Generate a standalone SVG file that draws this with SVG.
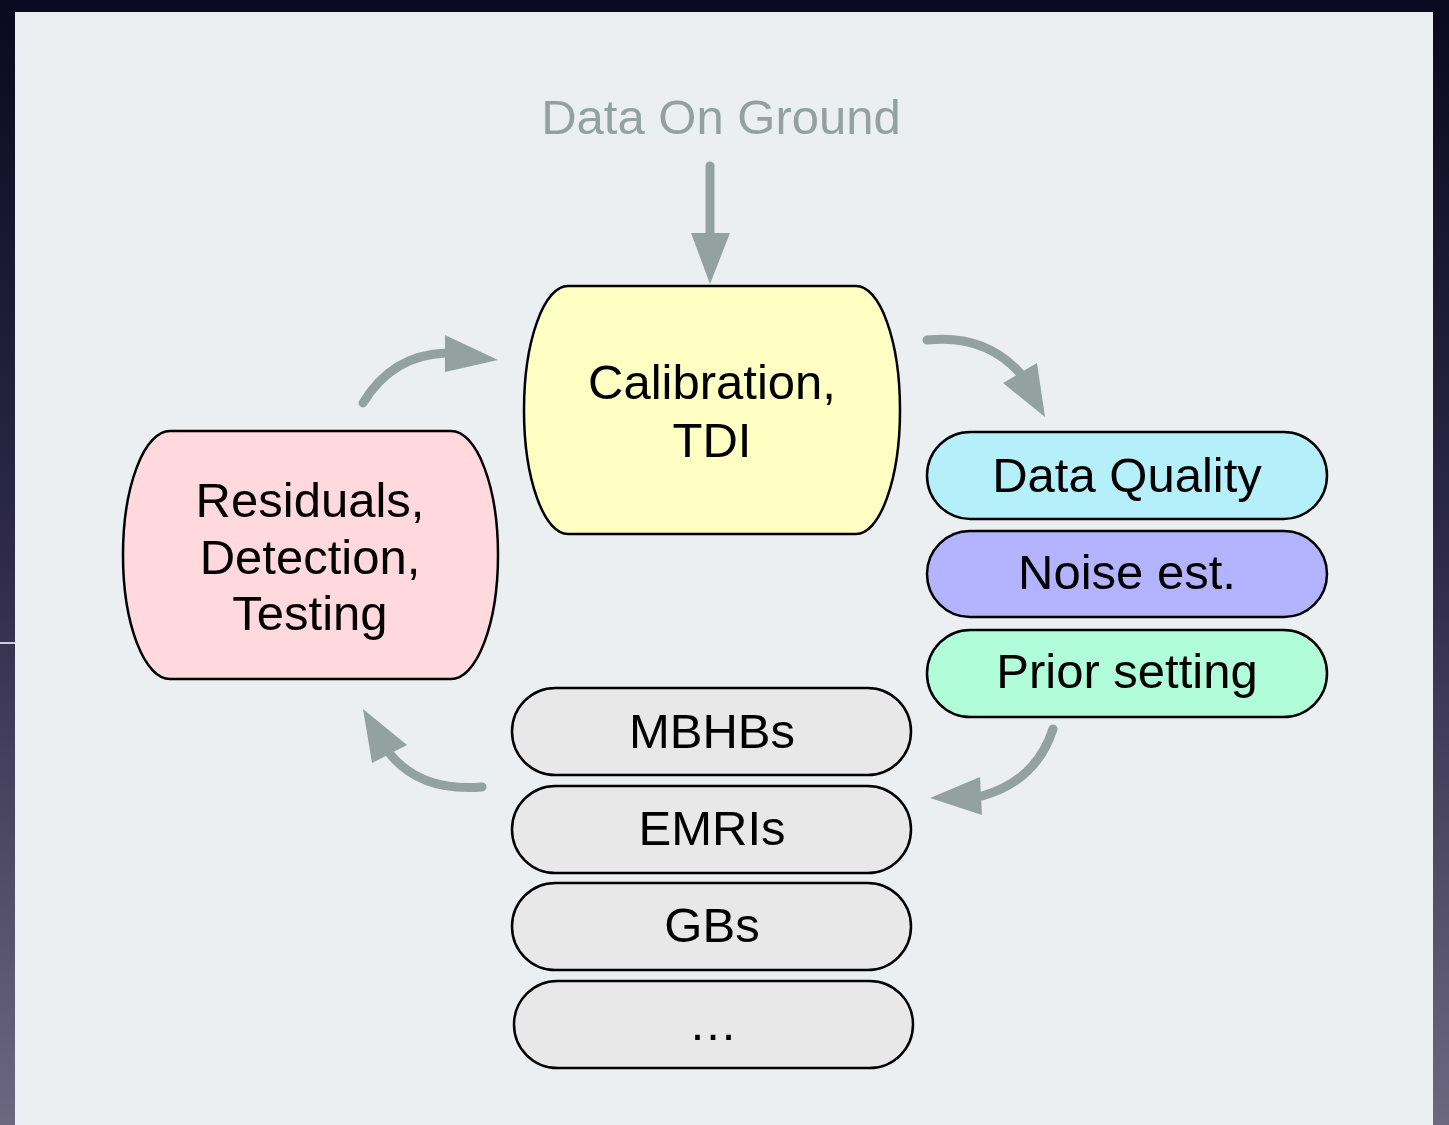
<svg xmlns="http://www.w3.org/2000/svg" width="1449" height="1125" viewBox="0 0 1449 1125">
  <defs>
    <linearGradient id="bg" x1="0" y1="0" x2="0" y2="1">
      <stop offset="0" stop-color="#0a0920"/>
      <stop offset="0.5" stop-color="#2e2a48"/>
      <stop offset="1" stop-color="#6c6882"/>
    </linearGradient>
    <style>
      .node { stroke: #000; stroke-width: 2.5; }
      .lbl { font-family: "Liberation Sans", Arial, Helvetica, sans-serif; font-size: 49px; fill: #000; text-anchor: middle; }
      .arrow { fill: none; stroke: #93a1a1; stroke-width: 9; stroke-linecap: round; }
      .head { fill: #93a1a1; }
    </style>
  </defs>

  <rect x="0" y="0" width="1449" height="1125" fill="url(#bg)"/>
  <line x1="0" y1="643" x2="15" y2="643" stroke="#ffffff" stroke-width="1.5"/>
  <rect x="15" y="12" width="1418" height="1113" fill="#ebeff2"/>

  <text x="721" y="134" class="lbl" style="fill:#93a1a1">Data On Ground</text>

  <g id="calibration">
    <path class="node" fill="#ffffc4" d="M 568,286 H 856 A 44 124 0 0 1 900,410 A 44 124 0 0 1 856,534 H 568 A 44 124 0 0 1 524,410 A 44 124 0 0 1 568,286 Z"/>
    <text x="712" y="399" class="lbl">Calibration,</text>
    <text x="712" y="457" class="lbl">TDI</text>
  </g>

  <g id="residuals">
    <path class="node" fill="#ffd9dd" d="M 170,431 H 451 A 47 124 0 0 1 498,555 A 47 124 0 0 1 451,679 H 170 A 47 124 0 0 1 123,555 A 47 124 0 0 1 170,431 Z"/>
    <text x="310" y="517" class="lbl">Residuals,</text>
    <text x="310" y="574" class="lbl">Detection,</text>
    <text x="310" y="630" class="lbl">Testing</text>
  </g>

  <g id="data-quality">
    <rect class="node" fill="#b5f0fa" x="927" y="432" width="400" height="87" rx="43.5"/>
    <text x="1127" y="492" class="lbl">Data Quality</text>
  </g>
  <g id="noise-est">
    <rect class="node" fill="#b3b3ff" x="927" y="531" width="400" height="86" rx="43"/>
    <text x="1127" y="589" class="lbl">Noise est.</text>
  </g>
  <g id="prior-setting">
    <rect class="node" fill="#b1fdd9" x="927" y="630" width="400" height="87" rx="43.5"/>
    <text x="1127" y="688" class="lbl">Prior setting</text>
  </g>

  <g id="mbhbs">
    <rect class="node" fill="#e8e8e8" x="512" y="688" width="399" height="87" rx="43.5"/>
    <text x="712" y="748" class="lbl">MBHBs</text>
  </g>
  <g id="emris">
    <rect class="node" fill="#e8e8e8" x="512" y="786" width="399" height="87" rx="43.5"/>
    <text x="712" y="845" class="lbl">EMRIs</text>
  </g>
  <g id="gbs">
    <rect class="node" fill="#e8e8e8" x="512" y="883" width="399" height="87" rx="43.5"/>
    <text x="712" y="942" class="lbl">GBs</text>
  </g>
  <g id="more">
    <rect class="node" fill="#e8e8e8" x="514" y="981" width="399" height="87" rx="43.5"/>
    <text x="713" y="1040" class="lbl">…</text>
  </g>

  <g id="connectors">
    <line class="arrow" x1="710" y1="166" x2="710" y2="238"/>
    <polygon class="head" points="691,233 730,233 710,284"/>

    <path class="arrow" d="M 363,403 Q 392,355 446,353"/>
    <polygon class="head" points="445,335 445,372 498,360"/>

    <path class="arrow" d="M 927,340 Q 985,334 1020,373"/>
    <polygon class="head" points="1003,383 1037,363 1045,417"/>

    <path class="arrow" d="M 1053,729 Q 1036,781 982,796"/>
    <polygon class="head" points="980,777 982,815 930,798"/>

    <path class="arrow" d="M 482,787 Q 421,792 390,754"/>
    <polygon class="head" points="372,763 407,745 363,709"/>
  </g>
</svg>
